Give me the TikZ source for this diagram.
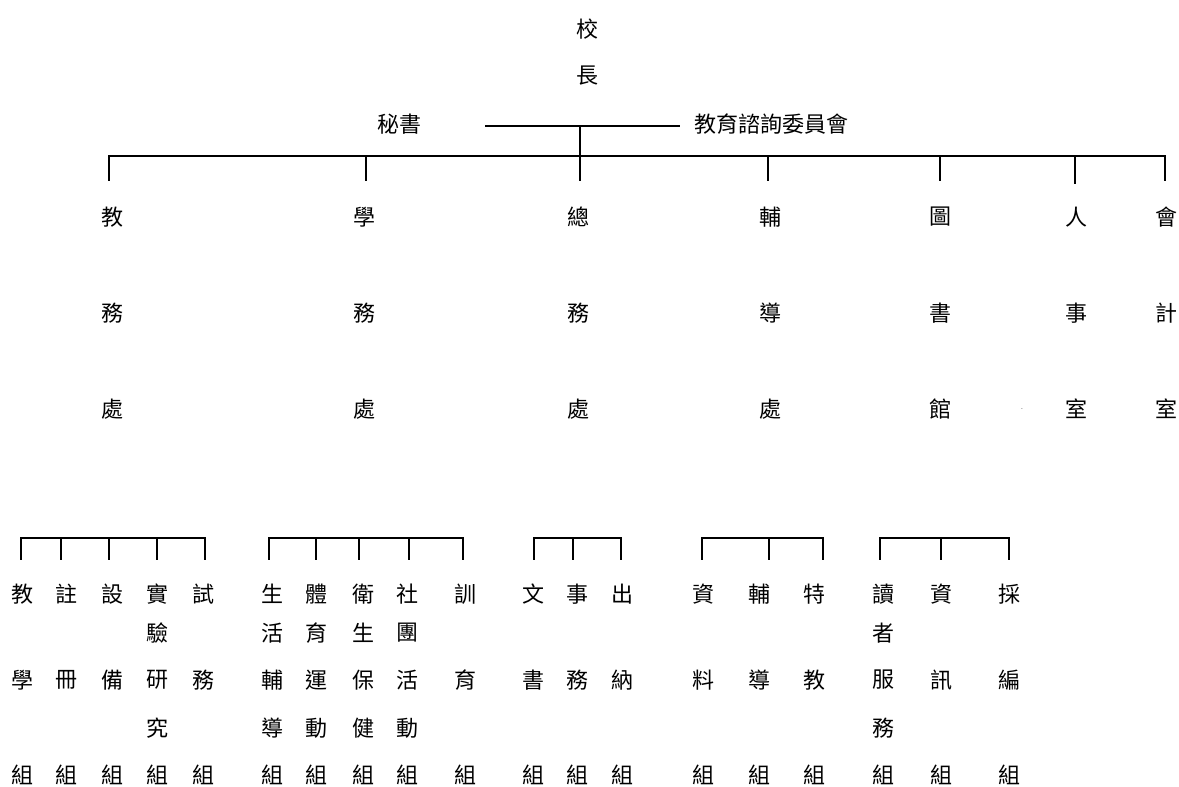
\documentclass[tikz,border=0pt]{standalone}
\usepackage{fontspec}
\newfontfamily\cjk{Noto Sans CJK TC}
\begin{document}
\begin{tikzpicture}[x=1pt,y=-1pt]
            \tikzstyle{zi}=[inner sep=0,font=\cjk\fontsize{22}{22}\selectfont];
            \tikzstyle{bar}=[line width=1.6pt,line cap=rect];
            \useasboundingbox (0,0) rectangle (1179,787);
            % head
            \node[zi] (xiao) at (587,29) {校};
            \node[zi] (zhang) at (587,76) {長};
            \node[zi] (mishu) at (399,124) {秘書};
            \node[zi] (weiyuan) at (771,124) {教育諮詢委員會};
            \coordinate (ml) at (486,126);
            \coordinate (mr) at (679,126);
            \coordinate (mc) at (580,126);
            \coordinate (mb) at (580,180);
            \draw[bar] (ml)--(mr);
            \draw[bar] (mc)--(mb);
            % offices
            \coordinate (top1) at (109,156);
            \coordinate (top7) at (1165,156);
            \draw[bar] (top1)--(top7);
            \foreach \x/\y [count=\i] in {109/180,366/180,768/180,940/180,1075/183,1165/180}
              {\coordinate (ta\i) at (\x,156); \coordinate (tb\i) at (\x,\y); \draw[bar] (ta\i)--(tb\i);}
            \foreach \x/\a/\b/\c [count=\i] in {112/教/務/處,364/學/務/處,578/總/務/處,770/輔/導/處,940/圖/書/館,1076/人/事/室,1166/會/計/室}
              {\node[zi] (of\i a) at (\x,217) {\a};
               \node[zi] (of\i b) at (\x,313) {\b};
               \node[zi] (of\i c) at (\x,409) {\c};}
            \node[font=\fontsize{8}{8}\selectfont,inner sep=0] (dot) at (1022,409) {.};
            % groups
            \foreach \x [count=\i] in {21,61,109,157,205}
              {\coordinate (jw\i) at (\x,538); \coordinate (jwb\i) at (\x,559); \draw[bar] (jw\i)--(jwb\i);}
            \draw[bar] (jw1)--(jw5);
            \foreach \x [count=\i] in {269,316,359,409,463}
              {\coordinate (xw\i) at (\x,538); \coordinate (xwb\i) at (\x,559); \draw[bar] (xw\i)--(xwb\i);}
            \draw[bar] (xw1)--(xw5);
            \foreach \x [count=\i] in {534,573,621}
              {\coordinate (zw\i) at (\x,538); \coordinate (zwb\i) at (\x,559); \draw[bar] (zw\i)--(zwb\i);}
            \draw[bar] (zw1)--(zw3);
            \foreach \x [count=\i] in {702,769,823}
              {\coordinate (fd\i) at (\x,538); \coordinate (fdb\i) at (\x,559); \draw[bar] (fd\i)--(fdb\i);}
            \draw[bar] (fd1)--(fd3);
            \foreach \x [count=\i] in {880,941,1009}
              {\coordinate (ts\i) at (\x,538); \coordinate (tsb\i) at (\x,559); \draw[bar] (ts\i)--(tsb\i);}
            \draw[bar] (ts1)--(ts3);
            % group names
            \foreach \x/\a/\c [count=\i] in {22/教/學,67/註/冊,112/設/備,157/實/研,203/試/務,
                272/生/輔,316/體/運,363/衛/保,407/社/活,465/訓/育,
                533/文/書,577/事/務,622/出/納,
                703/資/料,759/輔/導,814/特/教,
                883/讀/服,941/資/訊,1009/採/編}
              {\node[zi] (g\i a) at (\x,594) {\a};
               \node[zi] (g\i c) at (\x,680) {\c};
               \node[zi] (g\i e) at (\x,775) {組};}
            \foreach \x/\b/\d [count=\i] in {157/驗/究,272/活/導,316/育/動,363/生/健,407/團/動,883/者/務}
              {\node[zi] (h\i b) at (\x,633) {\b};
               \node[zi] (h\i d) at (\x,728) {\d};}
\end{tikzpicture}
\end{document}
